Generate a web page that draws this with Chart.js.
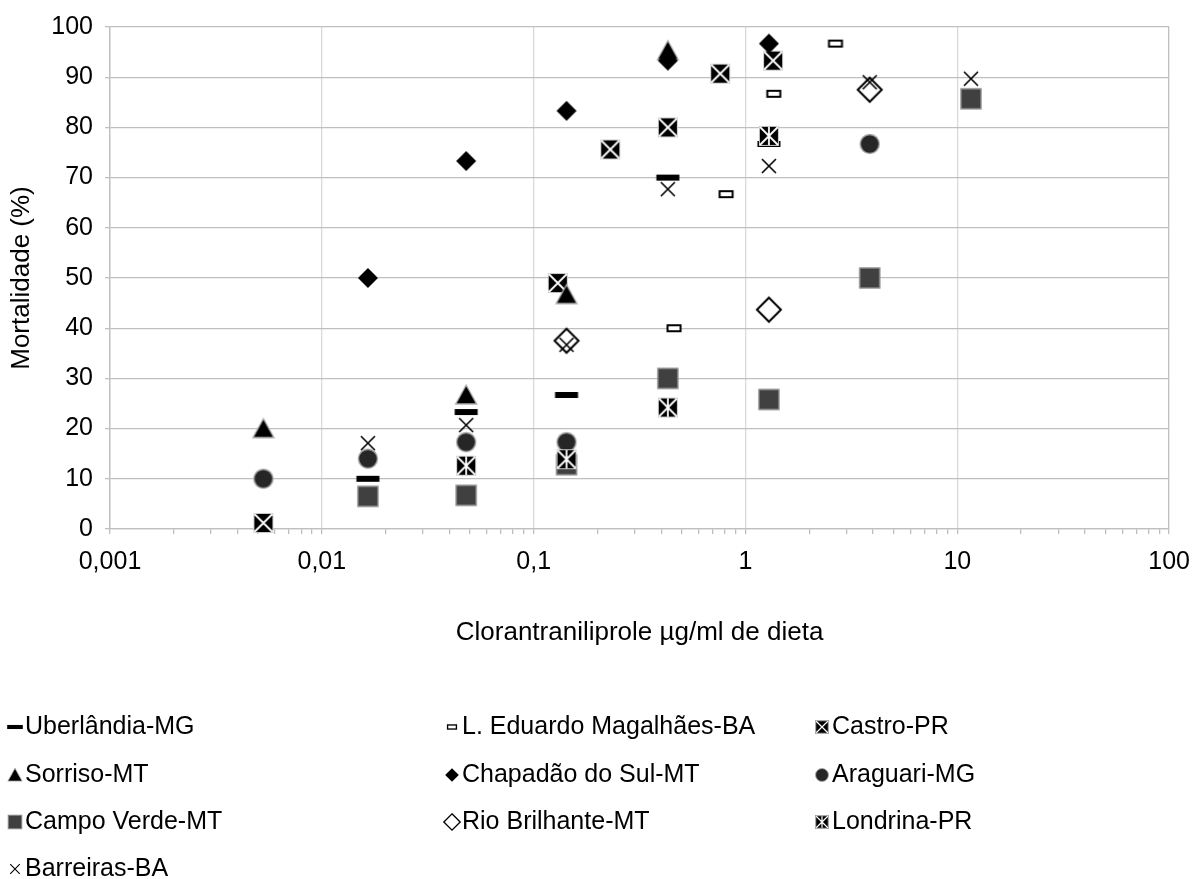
<!DOCTYPE html>
<html><head><meta charset="utf-8">
<script src="https://cdn.jsdelivr.net/npm/chart.js@4.4.1/dist/chart.umd.min.js"></script>
<style>html,body{margin:0;padding:0;background:#fff;}#wrap{width:1203px;height:879px;}</style>
</head><body><div id="wrap"><canvas id="c" width="1203" height="879"></canvas></div>
<script>
// ---- data ----
const xTickLabels = ['0,001','0,01','0,1','1','10','100'];
const seriesNames = ['Uberlândia-MG','L. Eduardo Magalhães-BA','Castro-PR','Sorriso-MT','Chapadão do Sul-MT','Araguari-MG','Campo Verde-MT','Rio Brilhante-MT','Londrina-PR','Barreiras-BA'];
const uberX = [0.0165,0.048,0.143,0.43,1.29];
const uberY = [10,23.3,26.7,70,76.7];
const leduX = [0.46,0.81,1.36,2.66];
const leduY = [40,66.7,86.7,96.7];
const castroX = [0.0053,0.13,0.23,0.43,0.76,1.35];
const castroY = [1.2,49,75.6,80,90.7,93.3];
const sorrisoX = [0.0053,0.048,0.143,0.43];
const sorrisoY = [20,26.7,46.7,95.3];
const chapX = [0.0165,0.048,0.143,0.43,1.29];
const chapY = [50,73.3,83.3,93.3,96.7];
const aragX = [0.0053,0.0165,0.048,0.143,3.86];
const aragY = [10,14,17.3,17.3,76.7];
const campoX = [0.0165,0.048,0.143,0.43,1.29,3.86,11.6];
const campoY = [6.5,6.7,12.8,30,25.8,50,85.7];
const rioX = [0.143,1.29,3.86];
const rioY = [37.5,43.7,87.5];
const londX = [0.048,0.143,0.43,1.29];
const londY = [12.6,13.9,24.2,78.3];
const barrX = [0.0165,0.048,0.143,0.43,1.29,3.86,11.6];
const barrY = [17.1,20.7,36.7,67.7,72.3,89,89.7];

const seriesX = [uberX,leduX,castroX,sorrisoX,chapX,aragX,campoX,rioX,londX,barrX];
const seriesY = [uberY,leduY,castroY,sorrisoY,chapY,aragY,campoY,rioY,londY,barrY];
const markerTypes = ['dash','rect','castro','tri','diamond','circle','square','odiamond','londrina','x'];

// ---- marker drawing ----
function drawMarker(g,type,cx,cy,s){
  g.save();
  g.lineJoin='miter';
  switch(type){
    case 'dash':
      g.fillStyle='#000';g.fillRect(cx-11.5*s,cy-3*s,23*s,6*s);break;
    case 'rect':
      g.fillStyle='#fff';g.strokeStyle='#000';g.lineWidth=Math.max(1.2,2*s);
      g.fillRect(cx-6.5*s,cy-3*s,13*s,6*s);g.strokeRect(cx-6.5*s,cy-3*s,13*s,6*s);break;
    case 'castro': case 'londrina': {
      const h=10*s;
      g.fillStyle='#000';g.fillRect(cx-h,cy-h,2*h,2*h);
      g.strokeStyle='#c8c8c8';g.lineWidth=1;g.strokeRect(cx-h+0.5,cy-h+0.5,2*h-1,2*h-1);
      g.strokeStyle='#fff';g.lineWidth=Math.max(1,1.8*s);
      g.beginPath();g.moveTo(cx-h+1,cy-h+1);g.lineTo(cx+h-1,cy+h-1);g.moveTo(cx+h-1,cy-h+1);g.lineTo(cx-h+1,cy+h-1);
      if(type==='londrina'){g.moveTo(cx,cy-h+1);g.lineTo(cx,cy+h-1);}
      g.stroke();break;}
    case 'tri':
      g.beginPath();g.moveTo(cx,cy-10*s);g.lineTo(cx+10.5*s,cy+9*s);g.lineTo(cx-10.5*s,cy+9*s);g.closePath();
      g.fillStyle='#000';g.fill();g.strokeStyle='#b0b0b0';g.lineWidth=1.3*s;g.stroke();break;
    case 'diamond':
      g.beginPath();g.moveTo(cx,cy-10*s);g.lineTo(cx+10*s,cy);g.lineTo(cx,cy+10*s);g.lineTo(cx-10*s,cy);g.closePath();
      g.fillStyle='#000';g.fill();break;
    case 'circle':
      g.beginPath();g.arc(cx,cy,9.5*s,0,Math.PI*2);g.fillStyle='#262626';g.fill();
      g.strokeStyle='#a6a6a6';g.lineWidth=1.4*s;g.stroke();break;
    case 'square':
      g.fillStyle='#404040';g.fillRect(cx-10*s,cy-10*s,20*s,20*s);
      g.strokeStyle='#8c8c8c';g.lineWidth=1.4*s;g.strokeRect(cx-10*s,cy-10*s,20*s,20*s);break;
    case 'odiamond':
      g.beginPath();g.moveTo(cx,cy-12*s);g.lineTo(cx+12*s,cy);g.lineTo(cx,cy+12*s);g.lineTo(cx-12*s,cy);g.closePath();
      g.fillStyle='#fff';g.fill();g.strokeStyle='#000';g.lineWidth=Math.max(1.2,2*s);g.stroke();break;
    case 'x':
      g.beginPath();g.moveTo(cx-7*s,cy-7*s);g.lineTo(cx+7*s,cy+7*s);g.moveTo(cx+7*s,cy-7*s);g.lineTo(cx-7*s,cy+7*s);
      g.strokeStyle='#000';g.lineWidth=1.6*s;g.stroke();break;
  }
  g.restore();
}
function markerCanvas(type){
  const c=document.createElement('canvas');c.width=30;c.height=30;
  drawMarker(c.getContext('2d'),type,15,15,1);return c;
}

const FONT_FAMILY = '"Liberation Sans", Arial, sans-serif';
const TICK_SIZE = 25, TITLE_SIZE = 26, LEGEND_SIZE = 25;

const legendPlugin = {
  id:'customLegend',
  afterDraw(chart){
    const g=chart.ctx;
    const colMarker=[15,452,822], colText=[25,462,832], rowY=[727,775,822,869];
    g.save();
    g.font = LEGEND_SIZE+'px '+FONT_FAMILY;
    g.fillStyle='#000';g.textBaseline='middle';g.textAlign='left';
    seriesNames.forEach((n,i)=>{
      const col=i%3,row=Math.floor(i/3);
      drawMarker(g,markerTypes[i],colMarker[col],rowY[row],0.68);
      g.fillText(n,colText[col],rowY[row]);
    });
    g.restore();
  }
};

const N = seriesNames.length;
const datasets = seriesNames.map((name,i)=>({
  label:name,
  data: seriesX[i].map((x,k)=>({x:x,y:seriesY[i][k]})),
  pointStyle: markerCanvas(markerTypes[i]),
  pointRadius:10, pointHoverRadius:10,
  showLine:false, clip:false,
  order: N - i
}));

function isMajor(v){const l=Math.log10(v);return Math.abs(l-Math.round(l))<1e-9;}

new Chart(document.getElementById('c'),{
  type:'scatter',
  data:{datasets},
  plugins:[legendPlugin],
  options:{
    responsive:false, animation:false, devicePixelRatio:1,
    layout:{padding:{top:21,right:33,bottom:230,left:0}},
    plugins:{legend:{display:false},tooltip:{enabled:false}},
    scales:{
      x:{
        type:'logarithmic', min:0.001, max:100,
        afterBuildTicks(scale){
          const t=[];
          for(let e=-3;e<=1;e++){for(let m=1;m<=9;m++){t.push({value:Number((m*Math.pow(10,e)).toPrecision(6))});}}
          t.push({value:100});
          scale.ticks=t;
        },
        afterFit(scale){scale.height=120;},
        ticks:{autoSkip:false,maxRotation:0,minRotation:0,padding:13,color:'#000',
          font:{family:FONT_FAMILY,size:TICK_SIZE},
          callback(v){ if(!isMajor(v)) return ''; return xTickLabels[Math.round(Math.log10(v))+3]; }},
        grid:{
          color(ctx){const v=ctx.tick&&ctx.tick.value; if(v===undefined) return 'rgba(0,0,0,0)'; if(!isMajor(v)) return 'rgba(0,0,0,0)'; return (v>=100||v<=0.001)?'#bfbfbf':'#d9d9d9';},
          tickColor:'#bfbfbf', tickLength:5, lineWidth:1.3, drawTicks:true
        },
        border:{color:'#bfbfbf',width:1.3},
        title:{display:true,text:'Clorantraniliprole µg/ml de dieta',color:'#000',
          font:{family:FONT_FAMILY,size:TITLE_SIZE},padding:{top:0,bottom:1}}
      },
      y:{
        type:'linear', min:0, max:100,
        afterFit(scale){scale.width=110;},
        ticks:{stepSize:10,padding:12,color:'#000',font:{family:FONT_FAMILY,size:TICK_SIZE}},
        grid:{color:'#bfbfbf',tickColor:'#bfbfbf',tickLength:5,lineWidth:1.3},
        border:{color:'#bfbfbf',width:1.3},
        title:{display:true,text:'Mortalidade (%)',color:'#000',
          font:{family:FONT_FAMILY,size:TITLE_SIZE},padding:{top:6,bottom:0}}
      }
    }
  }
});
</script></body></html>
